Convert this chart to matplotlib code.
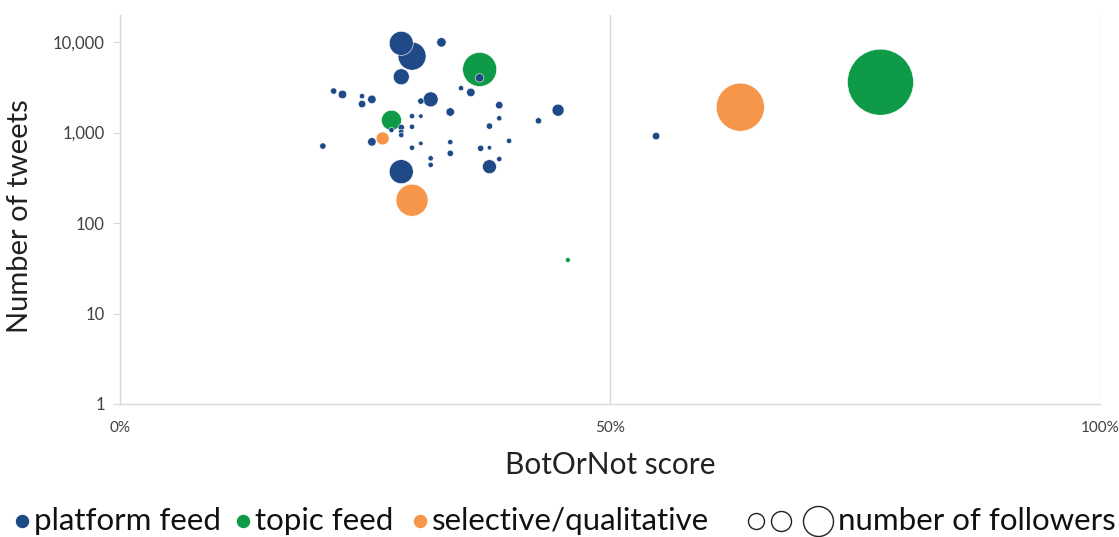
import matplotlib
matplotlib.use("Agg")
import matplotlib.pyplot as plt
from matplotlib.lines import Line2D
import numpy as np

plt.rcParams['font.family'] = ['Lato', 'DejaVu Sans']

# ---- data: BotOrNot score (%), number of tweets, number of followers ----
platform_score = [28.7, 29.8, 32.8, 36.7, 28.7, 21.8, 22.7, 24.7, 24.7, 25.7,
                  34.8, 35.8, 31.7, 30.7, 38.7, 33.7, 44.7, 42.7, 38.7, 29.8,
                  30.7, 29.8, 28.7, 28.7, 28.7, 27.7, 37.7, 39.7, 20.7, 25.7,
                  29.8, 30.7, 33.7, 33.7, 36.8, 37.7, 31.7, 31.7, 38.7, 28.7,
                  37.7, 54.7]
platform_tweets = [9700, 7000, 9950, 4030, 4140, 2880, 2640, 2530, 2070, 2330,
                   3100, 2780, 2330, 2230, 2010, 1690, 1770, 1350, 1440, 1520,
                   1520, 1160, 1140, 1020, 940, 1070, 1180, 810, 710, 790,
                   680, 760, 785, 590, 670, 680, 520, 440, 510, 370,
                   420, 915]
platform_followers = [144000, 196000, 22000, 18000, 64000, 10000, 18000, 7000, 14000, 18000,
                      7000, 18000, 56000, 10000, 14000, 18000, 36000, 10000, 7000, 7000,
                      5000, 7000, 10000, 7000, 7000, 7000, 10000, 7000, 10000, 18000,
                      7000, 5000, 7000, 10000, 10000, 5000, 7000, 7000, 7000, 144000,
                      49000, 14000]

topic_score = [36.7, 27.7, 77.6, 45.7]
topic_tweets = [4990, 1370, 3610, 39]
topic_followers = [289000, 100000, 1089000, 6000]

selective_score = [26.8, 29.8, 63.3]
selective_tweets = [863, 179, 1910]
selective_followers = [42000, 256000, 576000]

legend_labels = ["platform feed", "topic feed", "selective/qualitative", "number of followers"]
x_ticks = [0, 50, 100]
x_tick_labels = ["0%", "50%", "100%"]
y_ticks = [1, 10, 100, 1000, 10000]
y_tick_labels = ["1", "10", "100", "1,000", "10,000"]

# ---- style ----
BLUE = "#1f4a87"
GREEN = "#0f9a47"
ORANGE = "#f5964a"
GRID = "#d9d9d9"

W, H, DPI = 1119, 537, 100
fig = plt.figure(figsize=(W / DPI, H / DPI), dpi=DPI)
ax = fig.add_axes([120 / W, 1 - 404 / H, (1100 - 120) / W, (404 - 15) / H])

max_f = max(topic_followers)
max_r_px = 33.0
def sizes(f):
    f = np.asarray(f, dtype=float)
    r = max_r_px * np.sqrt(f / max_f)
    return (2 * r * 72 / DPI) ** 2

def draw(xs, ys, fs, color, z):
    xs, ys, fs = map(np.asarray, (xs, ys, fs))
    order = np.argsort(-fs)
    ax.scatter(xs[order], ys[order], s=sizes(fs[order]), color=color,
               edgecolor="white", linewidth=0.4, zorder=z)

draw(topic_score, topic_tweets, topic_followers, GREEN, 3)
draw(selective_score, selective_tweets, selective_followers, ORANGE, 3)
draw(platform_score, platform_tweets, platform_followers, BLUE, 4)

ax.set_yscale("log")
ax.set_xlim(0, 100)
ax.set_ylim(1, 10 ** 4.3)
ax.set_xticks(x_ticks)
ax.set_xticklabels(x_tick_labels)
ax.set_yticks(y_ticks)
ax.set_yticklabels(y_tick_labels)
ax.yaxis.set_minor_locator(matplotlib.ticker.NullLocator())
ax.tick_params(axis="x", length=0, pad=12, labelsize=11, labelcolor="#404040")
ax.tick_params(axis="y", length=5, width=0.8, color=GRID, pad=6, labelsize=12, labelcolor="#404040")
ax.grid(axis="x", color=GRID, linewidth=1)
ax.set_axisbelow(True)
for s in ["top", "right"]:
    ax.spines[s].set_visible(False)
for s in ["left", "bottom"]:
    ax.spines[s].set_color(GRID)
    ax.spines[s].set_linewidth(1)

ax.set_xlabel("BotOrNot score", fontsize=21.5, color="#222222")
ax.xaxis.set_label_coords(0.5, (404 - 465) / 389, transform=ax.transAxes)
ax.xaxis.label.set_va("center")
ax.set_ylabel("Number of tweets", fontsize=21, color="#222222")
ax.yaxis.set_label_coords((20 - 120) / 980, (404 - 216) / 389, transform=ax.transAxes)
ax.yaxis.label.set_va("center")

# ---- bottom legend ----
ly = 1 - 521 / H
fs_leg = 22.5
def dot(xpx, color, rpx=6, filled=True):
    fig.add_artist(Line2D([xpx / W], [ly], marker="o", markersize=2 * rpx * 72 / DPI,
                          color=color if filled else "#222222",
                          markerfacecolor=color if filled else "none",
                          markeredgewidth=1.0, linestyle="none", transform=fig.transFigure))
def label(xpx, txt):
    fig.text(xpx / W, ly, txt, fontsize=fs_leg, color="#111111", va="center", ha="left")

dot(22, BLUE); label(34, legend_labels[0])
dot(243, GREEN); label(255, legend_labels[1])
dot(420, ORANGE); label(432, legend_labels[2])
dot(756, None, 8, False); dot(781, None, 10, False); dot(818, None, 15, False)
label(838, legend_labels[3])

fig.savefig("out.png", dpi=DPI)
